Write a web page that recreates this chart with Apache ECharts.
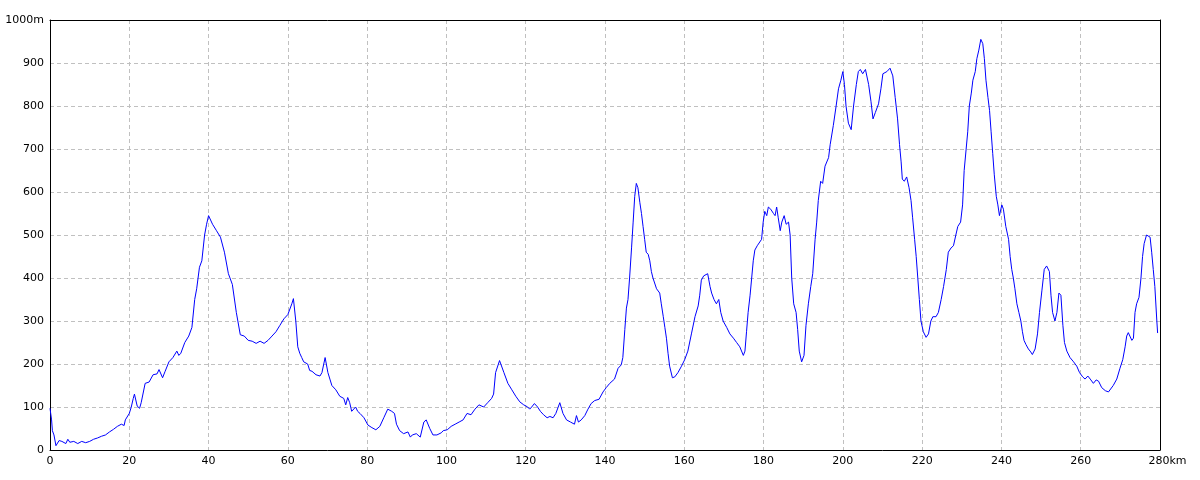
<!DOCTYPE html>
<html>
<head>
<meta charset="utf-8">
<script src="https://cdn.jsdelivr.net/npm/echarts@6/dist/echarts.min.js"></script>
<style>html,body{margin:0;padding:0;background:#fff}#c{width:1200px;height:480px}</style>
</head>
<body>
<div id="c"></div>
<script>
const distanceKm = [0,0.4,0.6,1,1.5,2,2.3,3,4,4.5,5,6,7,8,9,9.5,10,11,12,13,14,15,16,17,18,18.7,19,20,20.5,21,21.3,22,22.6,23,24,25,26,27,27.5,28,28.4,29,30,31,32,32.5,33,34,35,35.8,36.5,37,37.7,38.3,39,39.5,40,40.3,41,42,43,44,45,46,47,48,49,50,51,52,53,54,55,56,57,58,59,60,61,61.4,
62.0,62.5,63.0,63.5,64.0,65.0,65.5,66.1,67.1,67.6,68.1,68.6,69.4,70.1,70.6,71.1,72.1,73.1,74.1,74.6,75.1,75.6,76.1,76.6,77.1,77.6,78.2,79.2,79.7,80.2,81.2,82.2,82.7,83.2,84.2,85.2,86.2,86.9,87.4,88.2,89.2,90.3,90.9,91.4,92.4,93.4,94.3,94.9,95.8,96.6,97.6,98.7,99.2,99.7,100.2,101.2,102.2,103.2,104.2,105.2,106.2,107.2,108.2,108.7,109.4,110.4,111.4,111.9,112.4,113.4,114.5,115.5,116.5,117.5,118.5,119.5,120.5,121.0,121.5,122.2,123.0,123.7,124.5,125.4,126.1,126.9,127.6,128.6,129.4,130.3,131.3,132.3,132.8,133.3,
134.0,134.9,135.7,136.5,137.4,138.5,139.5,140.3,141.2,142.4,143.3,144.1,144.5,145.0,145.4,145.8,146.2,146.7,147.1,147.5,147.9,148.3,148.8,149.2,149.6,150.0,150.4,150.9,151.3,151.7,152.1,153.0,153.8,154.2,154.7,155.1,155.5,155.9,156.3,157.0,157.6,158.4,159.3,160.1,160.9,161.8,162.7,163.5,163.9,164.3,164.9,165.9,166.5,166.9,167.5,168.1,168.7,169.2,169.8,170.7,171.5,172.4,173.2,174.0,174.9,175.3,175.7,176.1,176.6,177.0,177.4,177.8,178.4,178.9,179.5,179.9,180.3,180.8,181.2,181.8,182.5,182.9,183.3,183.7,184.2,184.6,185.2,185.7,186.3,186.7,187.1,187.6,188.2,188.6,189.0,189.6,190.2,190.7,191.3,191.9,192.4,193.0,193.4,193.8,194.4,194.9,195.5,196.4,196.8,197.6,198.3,198.9,199.5,200.0,
200.4,200.8,201.4,202.1,202.7,203.4,203.9,204.4,205.0,205.7,206.5,207.1,207.6,208.2,209.0,209.6,210.1,211.1,211.9,212.6,213.2,213.8,214.3,214.7,215.0,215.5,216.1,216.7,217.2,217.6,218.1,218.5,218.9,219.3,219.7,220.3,221.0,221.6,222.2,222.7,223.5,224.1,224.8,225.4,226.1,226.6,227.3,227.9,228.5,229.0,229.7,230.2,230.6,231.1,231.5,231.9,232.4,232.8,233.4,233.8,234.3,234.8,235.3,235.7,236.1,236.6,237.0,237.4,237.8,238.2,238.7,239.1,239.5,240.1,240.5,241.1,241.8,242.2,242.6,243.0,243.4,243.9,244.4,244.9,245.3,245.7,246.2,246.8,247.4,247.8,248.5,249.1,249.6,250.2,250.8,251.4,252.1,252.5,252.9,253.5,254.0,254.5,255.0,255.5,255.9,256.5,257.3,258.2,259.0,259.7,260.5,261.1,261.8,262.4,263.2,263.9,264.5,265.3,266.2,267.0,267.4,268.2,269.1,269.9,270.6,271.2,271.6,272.0,272.4,272.9,273.3,273.7,274.1,274.7,275.2,275.6,276.0,276.6,277.5,277.9,278.3,278.7,279.2,279.4];
const elevationM = [97,70,45,35,10,8,22,20,15,25,18,20,15,20,17,13,20,25,28,32,35,42,48,55,60,57,70,85,100,120,130,102,97,110,155,158,175,177,187,183,168,182,205,215,230,220,225,250,265,285,350,375,425,440,500,525,545,548,525,510,495,460,410,385,320,268,265,255,253,248,253,248,255,265,275,290,305,315,340,352,
300,240,225,215,205,200,185,183,175,178,172,180,215,180,165,150,140,125,120,105,122,110,90,88,100,90,85,75,72,58,52,47,47,55,75,95,90,85,60,45,38,42,30,35,38,30,65,70,50,35,35,40,45,42,47,55,60,65,70,85,82,95,105,108,100,110,120,130,180,208,180,155,140,125,112,105,100,95,100,108,100,90,82,75,78,75,85,110,85,70,65,60,80,65,
70,80,95,108,115,118,135,145,155,165,190,198,215,280,330,350,400,470,530,590,620,610,575,550,520,490,460,455,440,415,400,375,365,340,310,285,260,225,195,168,170,180,195,210,230,270,310,335,360,395,405,410,380,365,350,340,350,320,300,285,270,260,250,240,220,230,275,320,360,400,440,465,475,473,490,530,555,545,565,560,550,545,565,540,510,530,545,525,530,500,400,340,320,280,230,205,220,290,340,380,410,490,530,580,625,620,660,680,710,755,800,840,860,880,
850,800,760,745,800,850,880,885,875,885,850,810,770,785,805,840,875,880,888,870,820,770,710,670,630,625,635,610,580,540,490,450,400,350,300,275,262,270,300,310,310,320,350,380,420,460,470,475,500,520,530,570,650,700,740,800,830,860,880,910,930,955,945,910,860,820,790,740,690,640,590,570,545,570,560,520,490,450,420,400,375,340,320,300,275,255,245,235,228,222,235,270,320,370,420,428,415,360,320,300,320,365,360,290,250,230,215,205,195,180,170,165,172,165,155,163,160,145,138,135,132,150,165,190,210,240,265,273,265,255,260,320,340,355,400,450,480,500,495,460,420,380,300,272];

const xTicks = [0,20,40,60,80,100,120,140,160,180,200,220,240,260,280];
const yTicks = [0,100,200,300,400,500,600,700,800,900,1000];

const points = distanceKm.map((d, i) => [d, elevationM[i]]);
const labelFont = '"DejaVu Sans", sans-serif';
const chart = echarts.init(document.getElementById('c'));
chart.setOption({
  animation: false,
  backgroundColor: '#ffffff',
  grid: { left: 50, right: 40, top: 20, bottom: 30, containLabel: false },
  xAxis: [{
    type: 'value', min: xTicks[0], max: xTicks[xTicks.length - 1], interval: 20,
    axisLine: { show: true, lineStyle: { color: '#000', width: 1 } },
    axisTick: { show: false },
    axisLabel: {
      color: '#000', fontSize: 11, fontFamily: labelFont, margin: 6,
      formatter: v => v === 280 ? '{sp|}280{u|km}' : String(v),
      rich: { sp: { width: 15 }, u: { fontSize: 11, fontFamily: labelFont, color: '#000' } }
    },
    splitLine: { show: true, lineStyle: { color: '#c0c0c0', type: [4, 3], width: 1 } }
  }, {
    type: 'value', position: 'top', min: 0, max: 280, z: 5,
    axisLine: { show: true, onZero: false, lineStyle: { color: '#000', width: 1 } },
    axisTick: { show: false }, axisLabel: { show: false }, splitLine: { show: false }
  }],
  yAxis: [{
    type: 'value', min: yTicks[0], max: yTicks[yTicks.length - 1], interval: 100,
    axisLine: { show: true, lineStyle: { color: '#000', width: 1 } },
    axisTick: { show: false },
    axisLabel: {
      color: '#000', fontSize: 11, fontFamily: labelFont, margin: 6,
      formatter: v => v === 1000 ? '1000m' : String(v)
    },
    splitLine: { show: true, lineStyle: { color: '#c0c0c0', type: [4, 3], width: 1 } }
  }, {
    type: 'value', position: 'right', min: 0, max: 1000, z: 5,
    axisLine: { show: true, onZero: false, lineStyle: { color: '#000', width: 1 } },
    axisTick: { show: false }, axisLabel: { show: false }, splitLine: { show: false }
  }],
  series: [{
    type: 'line', data: points, xAxisIndex: 0, yAxisIndex: 0,
    showSymbol: false, symbol: 'none', smooth: false,
    lineStyle: { color: '#0000ff', width: 1 }, z: 3
  }]
});
</script>
</body>
</html>
